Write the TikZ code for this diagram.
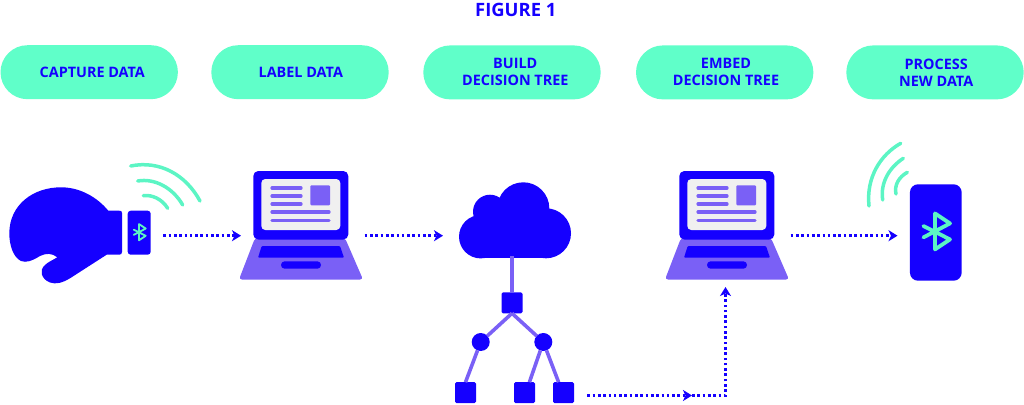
\documentclass[tikz,border=0pt]{standalone}
\usepackage{fontspec}
\setmainfont{Open Sans}
\usetikzlibrary{arrows.meta,shapes.misc}
\definecolor{blue1}{HTML}{1500FF}
\definecolor{violet1}{HTML}{7A60F6}
\definecolor{mint1}{HTML}{60FFC9}
\definecolor{mint2}{HTML}{5CF5C4}
\definecolor{grey1}{HTML}{F0F0F0}
\tikzset{
  stagepill/.style={rounded rectangle,fill=mint1,text=blue1,minimum width=177.4pt,minimum height=54pt,
    inner sep=0pt,outer sep=0pt,align=center,font=\fontsize{14.4}{17}\selectfont\bfseries},
  treebox/.style={rectangle,fill=blue1,rounded corners=1.5pt,minimum size=21pt,inner sep=0pt,outer sep=0pt},
  treedot/.style={circle,fill=blue1,minimum size=18pt,inner sep=0pt,outer sep=0pt},
  treeline/.style={draw=violet1,line width=3.6pt},
  flowline/.style={draw=blue1,line width=2.7pt,dash pattern=on 2.6pt off 2.7pt},
  flowtip/.style={-{Stealth[length=9pt,width=11pt,inset=2.5pt]}},
  signal/.style={draw=mint2,line width=3.5pt,line cap=round},
  laptop/.pic={
    \fill[violet1,rounded corners=3pt] (-46,13) -- (44,13) -- (62,54.5) -- (-62,54.5) -- cycle;
    \fill[blue1,rounded corners=5pt] (-47.7,-54) rectangle (47.3,14.5);
    \fill[grey1,rounded corners=4pt] (-39.7,-46) rectangle (39.3,5);
    \fill[violet1,rounded corners=1pt] (9.3,-39.7) rectangle (29,-19.7);
    \foreach \rowy in {-37,-29,-21}
      \draw[violet1,line width=3.2pt,line cap=round] (-29,\rowy) -- (0,\rowy);
    \foreach \rowy in {-13,-4.7}
      \draw[violet1,line width=3.2pt,line cap=round] (-29,\rowy) -- (28,\rowy);
    \fill[blue1,rounded corners=1pt] (-39.3,21) -- (39,21) -- (43,32.7) -- (-43,32.7) -- cycle;
    \fill[blue1,rounded corners=3.6pt] (-20,36.3) rectangle (20,43.7);
  },
  bluetooth/.pic={
    \draw[mint2,line cap=round,line join=round,pic actions]
      (-12.3,-5.7) -- (14.3,7.7) -- (-0.7,17.7) -- (-0.7,-18.3) -- (14.3,-8.3) -- (-12.3,5.7);
  },
}
\begin{document}
\begin{tikzpicture}[x=1pt,y=-1pt]
  \useasboundingbox (0,0) rectangle (1024,404);
  % top row
  \node (title) at (515.8,10) [text=blue1,font=\fontsize{18.4}{20}\selectfont\bfseries] {FIGURE 1};
  \node (capture) at (89.2,72.2) [stagepill] {\hspace*{6.2pt}CAPTURE DATA};
  \node (label) at (300,72.2) [stagepill] {\hspace*{1.6pt}LABEL DATA};
  \node (build) at (512,72.4) [stagepill] {\hspace*{6.6pt}BUILD\\\hspace*{6.6pt}DECISION TREE};
  \node (embed) at (724.7,72.4) [stagepill] {\hspace*{2.6pt}EMBED\\\hspace*{2.6pt}DECISION TREE};
  \node (process) at (935,72.4) [stagepill] {\hspace*{2.4pt}PROCESS\\\hspace*{2.4pt}NEW DATA};
  % glove
  \fill[blue1] (122,213) -- (122,252) .. controls (122,254) and (121,254.7) .. (119,254.7)
    -- (106.7,254.7) -- (70,278.3) .. controls (62,283) and (56,284.5) .. (50,282.5)
    .. controls (41,279) and (39,270) .. (45,265) .. controls (48,262) and (53,260) .. (57.3,257.3)
    .. controls (52,253) and (46,253) .. (40,256) .. controls (32,261) and (26,263) .. (21,261)
    .. controls (13,257) and (9.3,245) .. (9.3,233) .. controls (9.5,205) and (33,187) .. (61.7,187.3)
    .. controls (80,187.5) and (97,197) .. (108.3,210.7) -- (119,210.7)
    .. controls (121,210.7) and (122,211) .. (122,213) -- cycle;
  \node (band) at (139.2,232.7) [rectangle,fill=blue1,rounded corners=3pt,minimum width=23pt,minimum height=44pt,inner sep=0pt,outer sep=0pt] {};
  \pic[scale=0.45,line width=1.8pt] at (139.3,232.3) {bluetooth};
  \draw[signal] (130.7,166) .. controls (160,160) and (186,175) .. (200,201);
  \draw[signal] (137.7,181) .. controls (155,178) and (173,188) .. (182.7,205);
  \draw[signal] (143.3,195.7) .. controls (152,194.5) and (162,199) .. (167.7,208.3);
  % laptops
  \coordinate (laptopa) at (301,225);
  \coordinate (laptopb) at (727,225);
  \pic at (laptopa) {laptop};
  \pic at (laptopb) {laptop};
  % cloud
  \fill[blue1] (523.3,208.3) circle (26);
  \fill[blue1] (490,211.7) circle (17);
  \fill[blue1] (480.7,236.7) circle (21.7);
  \fill[blue1] (546,233.3) circle (25);
  \fill[blue1] (480.7,218) rectangle (546,258.4);
  % tree
  \node (root) at (512,302.8) [treebox] {};
  \node (forka) at (480.7,342) [treedot] {};
  \node (forkb) at (543.3,342) [treedot] {};
  \node (leafa) at (465.5,392.7) [treebox] {};
  \node (leafb) at (524.5,392.7) [treebox] {};
  \node (leafc) at (563.5,392.7) [treebox] {};
  \coordinate (cloudfoot) at (512,256);
  \begin{scope}[treeline]
    \draw (cloudfoot) to (root);
    \draw (root.south) to (forka);
    \draw (root.south) to (forkb);
    \draw (forka) to (leafa.north);
    \draw (forkb) to (leafb.65);
    \draw (forkb) to (leafc.115);
  \end{scope}
  % phone
  \node (phone) at (935.8,232.5) [rectangle,fill=blue1,rounded corners=8pt,minimum width=51.7pt,minimum height=96.4pt,inner sep=0pt,outer sep=0pt] {};
  \pic[line width=3.8pt] at (935.7,231.7) {bluetooth};
  \draw[signal] (869,206) .. controls (866,178) and (880,155) .. (900.7,143.3);
  \draw[signal] (882.7,200) .. controls (880,182) and (890,167) .. (903.3,158.3);
  \draw[signal] (896,194) .. controls (894,185) and (899,177) .. (907.3,172.3);
  % arrows
  \coordinate (wristout) at (163.3,235.7);
  \coordinate (laptopain) at (241,235.7);
  \coordinate (laptopaout) at (364.7,235.7);
  \coordinate (cloudin) at (443,235.7);
  \coordinate (laptopbout) at (790.7,235.7);
  \coordinate (phonein) at (897.5,235.7);
  \coordinate (leafout) at (587.3,395.5);
  \coordinate (midtip) at (692,395.5);
  \coordinate (bend) at (725.5,395.5);
  \coordinate (laptopbin) at (725.5,287);
  \draw[flowline,flowtip] (wristout) -- (laptopain);
  \draw[flowline,flowtip] (laptopaout) -- (cloudin);
  \draw[flowline,flowtip] (laptopbout) -- (phonein);
  \draw[flowline,flowtip] (leafout) -- (midtip);
  \draw[flowline,flowtip] (midtip) -- (bend) -- (laptopbin);
\end{tikzpicture}
\end{document}
